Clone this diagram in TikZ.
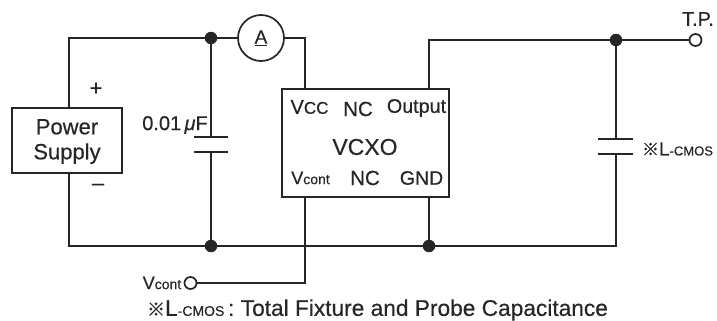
\documentclass[tikz,border=0pt]{standalone}
\usepackage{fontspec}
\setmainfont[FakeBold=0.4]{Liberation Sans}
\newfontfamily\refmark[FakeBold=1.2]{Noto Sans CJK JP}
\newcommand{\fs}[1]{\fontsize{#1}{#1}\selectfont}
\definecolor{ink}{HTML}{262626}
\tikzset{
  wire/.style={draw=ink,line width=1.7pt,line join=miter},
  box/.style={draw=ink,line width=1.7pt,fill=white,inner sep=0pt,minimum width=#1},
  dot/.style={circle,fill=ink,draw=none,inner sep=0pt,minimum size=12.5pt},
  term/.style={circle,draw=ink,line width=1.7pt,fill=white,inner sep=0pt,minimum size=12pt},
  plate/.style={draw=ink,line width=1.9pt},
  lab/.style={text=ink,inner sep=0pt,anchor=center},
}
\begin{document}
\begin{tikzpicture}[x=1pt,y=-1pt]
\useasboundingbox (0,0) rectangle (717,321);
% nodes
\node[box=110pt,minimum height=65pt] (ps) at (67,140.5) {};
\node[lab,align=center,font=\fs{22}] (pslab) at (67,141.5) {Power\\[3pt]Supply};
\node[box=167pt,minimum height=108pt] (ic) at (365.5,143) {};
\node[circle,draw=ink,line width=1.7pt,fill=white,minimum size=46pt,inner sep=0pt] (amm) at (261,38) {};
\node[lab] (ammlab) at (261,38) {\fs{19}\underline{A}};
\node[dot] (j1) at (211,38) {};
\node[dot] (j2) at (211,246) {};
\node[dot] (j3) at (429,246) {};
\node[dot] (j4) at (616,40) {};
\node[term] (vc) at (190.5,283) {};
\node[term] (tp) at (695.5,40) {};
\coordinate (ca1) at (211,137);
\coordinate (cb1) at (211,152);
\coordinate (ca2) at (616,139);
\coordinate (cb2) at (616,154);
\coordinate (tl) at (69,38);
\coordinate (bl) at (69,246);
\coordinate (tr) at (305,38);
\coordinate (vd) at (305,283);
\coordinate (ot) at (429,40);
\coordinate (br) at (616,246);
\coordinate (pstop) at (69,108);
\coordinate (psbot) at (69,173);
\coordinate (vcc) at (305,89);
\coordinate (vct) at (305,197);
\coordinate (outp) at (429,89);
\coordinate (gnd) at (429,197);
% wires
\draw[wire] (pstop) -- (tl) -- (j1) -- (amm);
\draw[wire] (amm) -- (tr) -- (vcc);
\draw[wire] (psbot) -- (bl) -- (j2) -- (j3) -- (br) -- (cb2);
\draw[wire] (j1) -- (ca1);
\draw[wire] (cb1) -- (j2);
\draw[wire] (vct) -- (vd) -- (vc);
\draw[wire] (outp) -- (ot) -- (j4) -- (tp);
\draw[wire] (gnd) -- (j3);
\draw[wire] (j4) -- (ca2);
\draw[plate] (194,137) -- (ca1) -- (228,137);
\draw[plate] (194,152) -- (cb1) -- (228,152);
\draw[plate] (598,139) -- (ca2) -- (633,139);
\draw[plate] (598,154) -- (cb2) -- (633,154);
% labels
\node[lab] at (96,89) {\fs{22}+};
\node[lab] at (98,187) {\fs{22}–};
\node[lab] at (175,125) {\fs{20}0.01\,\textit{μ}F};
\node[lab] at (309.5,107) {\fs{20}V{\fs{17}CC}};
\node[lab] at (358,109) {\fs{20.5}NC};
\node[lab] at (416.5,108) {\fs{19.7}Output};
\node[lab] at (365,147) {\fs{23}VCXO};
\node[lab] at (310.5,178) {\fs{18}V{\fs{14}cont}};
\node[lab] at (365,178) {\fs{20.5}NC};
\node[lab] at (421.5,178) {\fs{19.5}GND};
\node[lab] at (162,283) {\fs{18}V{\fs{14}cont}};
\node[lab] at (698,19) {\fs{20}T.P.};
\node[lab] at (677.5,149) {{\refmark\fs{17}※}\fs{19}L{\fs{13}-CMOS}};
\node[lab] at (377.5,310) {{\refmark\fs{18}※}\fs{22.7}L{\fs{14}-CMOS}\,: Total Fixture and Probe Capacitance};
\end{tikzpicture}
\end{document}
